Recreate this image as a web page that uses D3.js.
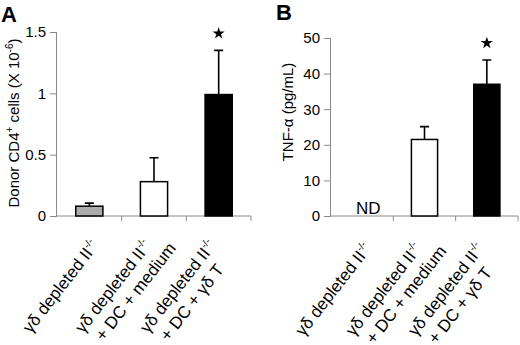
<!DOCTYPE html>
<html>
<head>
<meta charset="utf-8">
<script src="https://cdn.jsdelivr.net/npm/d3@7"></script>
<style>
  body { margin: 0; background: #fff; }
  svg { font-family: "Liberation Sans", Arial, sans-serif; }
</style>
</head>
<body>
<svg id="chart" width="520" height="345"></svg>
<script>
// data
const groups = ["g1", "g2", "g3"];
const labelLine1 = ["γδ depleted II", "γδ depleted II", "γδ depleted II"];
const labelLine2 = ["", "+ DC + medium", "+ DC + γδ T"];
const cellsMean = [0.08, 0.28, 0.99];
const cellsErr = [0.025, 0.195, 0.36];
const tnfMean = [null, 21.5, 37];
const tnfErr = [null, 3.6, 6.8];
const cellsTicks = [0, 0.5, 1, 1.5];
const tnfTicks = [0, 10, 20, 30, 40, 50];
const starred = [false, false, true];
const barFills = ["#ababab", "#ffffff", "#000000"];

const svg = d3.select("#chart");
const axisGray = "#8a8a8a";

function panel(opts) {
  const g = svg.append("g");
  const x = d3.scaleBand().domain(groups).range(opts.xRange).padding(0);
  const y = d3.scaleLinear().domain(opts.yDomain).range([216, opts.yTop]);
  const bw = x.bandwidth() * 0.42;

  // y axis
  const ya = g.append("g")
    .attr("transform", `translate(${opts.xRange[0]},0)`)
    .call(d3.axisLeft(y).tickValues(opts.ticks).tickSize(7).tickPadding(4).tickFormat(d => d));
  ya.select(".domain").attr("stroke", axisGray).attr("d", `M-0.5,${y(0)}V${y(opts.yDomain[1])}`);
  ya.selectAll(".tick line").attr("stroke", axisGray);
  ya.selectAll("text").attr("font-size", 15).attr("fill", "#000")
    .attr("font-family", "Liberation Sans, Arial, sans-serif");

  // x axis with ticks at the group boundaries
  g.append("line")
    .attr("x1", opts.xRange[0]).attr("x2", opts.xRange[1])
    .attr("y1", y(0)).attr("y2", y(0))
    .attr("stroke", axisGray);
  const edges = groups.map(d => x(d)).concat([opts.xRange[1]]);
  g.selectAll(".xtick").data(edges.slice(1)).join("line")
    .attr("class", "xtick")
    .attr("x1", d => d).attr("x2", d => d)
    .attr("y1", y(0)).attr("y2", y(0) + 5)
    .attr("stroke", axisGray);

  const rows = groups.map((k, i) => ({ k, i, v: opts.mean[i], e: opts.err[i] }))
    .filter(d => d.v != null);

  // error bars (upper only)
  g.selectAll(".err").data(rows).join("path")
    .attr("class", "err")
    .attr("d", d => {
      const cx = x(d.k) + x.bandwidth() / 2;
      const yt = y(d.v + d.e);
      return `M${cx},${y(d.v)}V${yt}M${cx - 4.5},${yt}H${cx + 4.5}`;
    })
    .attr("stroke", "#000").attr("stroke-width", 1.6).attr("fill", "none");

  // bars
  g.selectAll(".bar").data(rows).join("rect")
    .attr("class", "bar")
    .attr("x", d => x(d.k) + (x.bandwidth() - bw) / 2)
    .attr("width", bw)
    .attr("y", d => y(d.v))
    .attr("height", d => y(0) - y(d.v))
    .attr("fill", d => barFills[d.i])
    .attr("stroke", "#000").attr("stroke-width", 1.5);

  // significance stars
  g.selectAll(".star").data(rows.filter(d => starred[d.i])).join("path")
    .attr("class", "star")
    .attr("d", d3.symbol(d3.symbolStar, 45))
    .attr("transform", d => `translate(${x(d.k) + x.bandwidth() / 2},${y(d.v + d.e) - opts.starGap})`)
    .attr("fill", "#000");

  // ND marker for missing values
  groups.forEach((k, i) => {
    if (opts.mean[i] == null) {
      g.append("text").attr("x", x(k) + x.bandwidth() / 2 + 6).attr("y", y(0) - 2)
        .attr("text-anchor", "middle").attr("font-size", 17).text("ND");
    }
  });

  // rotated category labels (two-line labels sit a bit further left/up)
  groups.forEach((k, i) => {
    const lg = g.append("g")
      .attr("transform", `translate(${x(k) + x.bandwidth() / 2 + 10},${opts.labelY}) rotate(-52)`);
    const two = !!labelLine2[i];
    const x0 = two ? -7.4 : 0, y0 = two ? -9.5 : 0;
    const t1 = lg.append("text").attr("x", x0).attr("y", y0)
      .attr("text-anchor", "end").attr("font-size", 17);
    t1.append("tspan").text(labelLine1[i]);
    t1.append("tspan").attr("font-size", 10).attr("dy", -7).text("-/-");
    if (two) {
      const len = t1.node().getComputedTextLength();
      lg.append("text").attr("x", x0 - len + 6).attr("y", y0 + 21)
        .attr("font-size", 17).text(labelLine2[i]);
    }
  });

  // y title
  const yt = g.append("text")
    .attr("transform", `translate(${opts.titleX},${opts.titleY}) rotate(-90)`)
    .attr("text-anchor", "middle").attr("font-size", 15);
  opts.title(yt);

  // panel letter
  g.append("text").attr("x", opts.letterX).attr("y", opts.letterY)
    .attr("font-size", 22).attr("font-weight", "bold").text(opts.letter);
}

panel({
  xRange: [57, 251], yDomain: [0, 1.5], yTop: 32, ticks: cellsTicks,
  mean: cellsMean, err: cellsErr, starGap: 17, labelY: 246,
  titleX: 19, titleY: 123, letter: "A", letterX: 1, letterY: 22,
  title: t => {
    t.append("tspan").text("Donor CD4");
    t.append("tspan").attr("font-size", 10).attr("dy", -6).text("+");
    t.append("tspan").attr("dy", 6).text(" cells (X 10");
    t.append("tspan").attr("font-size", 10).attr("dy", -6).text("-6");
    t.append("tspan").attr("dy", 6).text(")");
  }
});

panel({
  xRange: [331, 518], yDomain: [0, 50], yTop: 38, ticks: tnfTicks,
  mean: tnfMean, err: tnfErr, starGap: 17, labelY: 249,
  titleX: 293, titleY: 112, letter: "B", letterX: 276, letterY: 20,
  title: t => t.text("TNF-α (pg/mL)")
});
</script>
</body>
</html>
